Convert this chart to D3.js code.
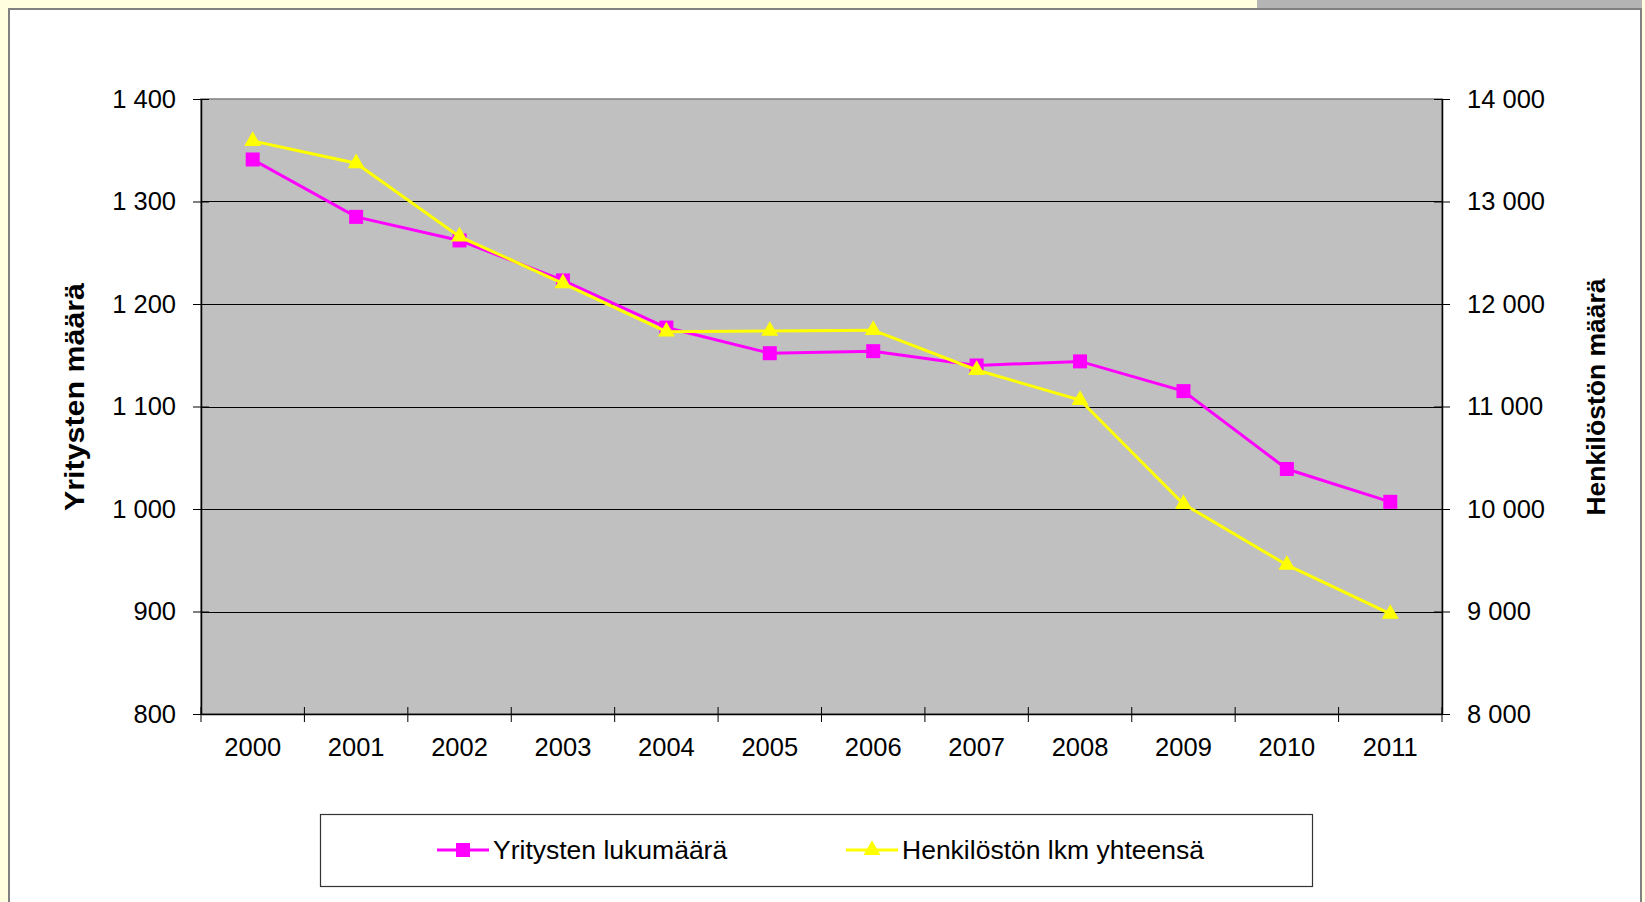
<!DOCTYPE html>
<html>
<head>
<meta charset="utf-8">
<script src="https://cdn.jsdelivr.net/npm/d3@7"></script>
<style>
  body { margin: 0; background: #FFFFE0; }
  svg { display: block; font-family: "Liberation Sans", Arial, sans-serif; }
</style>
</head>
<body>
<svg class="display"></svg>
<script>
const years = ['2000', '2001', '2002', '2003', '2004', '2005', '2006', '2007', '2008', '2009', '2010', '2011'];
const yritykset = [1341, 1285, 1262, 1223, 1177, 1152, 1154, 1140, 1144, 1115, 1039, 1007];
const henkilosto = [13590, 13373, 12657, 12202, 11730, 11737, 11745, 11356, 11063, 10049, 9454, 8976];
const leftTicks = [800, 900, 1000, 1100, 1200, 1300, 1400];
const rightTicks = [8000, 9000, 10000, 11000, 12000, 13000, 14000];

const width = 1645;
const height = 902;

const fmt = d3.formatLocale({ decimal: ',', thousands: ' ', grouping: [3], currency: ['', ''] }).format(',');

const svg = d3.select('.display')
  .attr('width', width)
  .attr('height', height);

// page background + grey tab on the top right
svg.append('rect').attr('width', width).attr('height', height).attr('fill', '#FFFFE0');
svg.append('rect').attr('x', 1257).attr('y', 0).attr('width', 385).attr('height', 10).attr('fill', '#B4B4B4');

// chart area
svg.append('rect')
  .attr('x', 9).attr('y', 9).attr('width', 1632).attr('height', 905)
  .attr('fill', '#fff').attr('stroke', '#808080').attr('stroke-width', 2);

const plot = { left: 201, right: 1442, top: 99, bottom: 714 };

const x = d3.scaleBand().domain(years).range([plot.left, plot.right]);
const yL = d3.scaleLinear().domain([800, 1400]).range([plot.bottom, plot.top]);
const yR = d3.scaleLinear().domain([8000, 14000]).range([plot.bottom, plot.top]);

svg.append('rect')
  .attr('x', plot.left).attr('y', plot.top)
  .attr('width', plot.right - plot.left).attr('height', plot.bottom - plot.top)
  .attr('fill', '#C0C0C0').attr('stroke', '#808080').attr('stroke-width', 1.5);

// gridlines
svg.append('g')
  .selectAll('line')
  .data(leftTicks.slice(1, -1))
  .join('line')
    .attr('x1', plot.left).attr('x2', plot.right)
    .attr('y1', d => Math.round(yL(d)) + 0.5).attr('y2', d => Math.round(yL(d)) + 0.5)
    .attr('stroke', '#000').attr('stroke-width', 1.2);

// axes
const axisL = svg.append('g')
  .attr('transform', `translate(${plot.left},0)`)
  .call(d3.axisLeft(yL).tickValues(leftTicks).tickFormat(fmt).tickSizeInner(8).tickSizeOuter(0).tickPadding(17));

const axisR = svg.append('g')
  .attr('transform', `translate(${plot.right},0)`)
  .call(d3.axisRight(yR).tickValues(rightTicks).tickFormat(fmt).tickSizeInner(8).tickSizeOuter(0).tickPadding(17));

const axisX = svg.append('g')
  .attr('transform', `translate(0,${plot.bottom})`)
  .call(d3.axisBottom(x).tickSize(0).tickPadding(24));

// boundary ticks between categories, crossing the axis
svg.append('g')
  .selectAll('line')
  .data(years.concat(['end']))
  .join('line')
    .attr('x1', (d, i) => plot.left + i * x.step())
    .attr('x2', (d, i) => plot.left + i * x.step())
    .attr('y1', plot.bottom - 7).attr('y2', plot.bottom + 8)
    .attr('stroke', '#000');

[axisL, axisR, axisX].forEach(a => {
  a.selectAll('.domain').attr('stroke', '#000').attr('stroke-width', 1.5);
  a.selectAll('.tick line').attr('stroke', '#000');
  a.selectAll('text').attr('font-size', 25.5).attr('fill', '#000').attr('font-family', '"Liberation Sans", Arial, sans-serif');
});
axisL.selectAll('.tick line').attr('x1', -8).attr('x2', 8);
axisR.selectAll('.tick line').attr('x1', -8).attr('x2', 8);

// axis titles
svg.append('text')
  .attr('transform', 'translate(84,397) rotate(-90)')
  .attr('text-anchor', 'middle')
  .attr('font-size', 27).attr('font-weight', 'bold')
  .attr('textLength', 228).attr('lengthAdjust', 'spacingAndGlyphs')
  .text('Yritysten määrä');

svg.append('text')
  .attr('transform', 'translate(1605,397) rotate(-90)')
  .attr('text-anchor', 'middle')
  .attr('font-size', 26.5).attr('font-weight', 'bold')
  .text('Henkilöstön määrä');

// series
const cx = d => x(d) + x.bandwidth() / 2;
const magenta = '#FF00FF';
const yellow = '#FFFF00';
const square = d3.symbol().type(d3.symbolSquare).size(196);
const triangle = d3.symbol().type(d3.symbolTriangle).size(125);

const lineL = d3.line().x((d, i) => cx(years[i])).y(d => yL(d));
const lineR = d3.line().x((d, i) => cx(years[i])).y(d => yR(d));

svg.append('path').datum(yritykset)
  .attr('d', lineL).attr('fill', 'none').attr('stroke', magenta).attr('stroke-width', 3);
svg.append('g').selectAll('path')
  .data(yritykset)
  .join('path')
    .attr('transform', (d, i) => `translate(${cx(years[i])},${yL(d)})`)
    .attr('d', square).attr('fill', magenta);

svg.append('path').datum(henkilosto)
  .attr('d', lineR).attr('fill', 'none').attr('stroke', yellow).attr('stroke-width', 3);
svg.append('g').selectAll('path')
  .data(henkilosto)
  .join('path')
    .attr('transform', (d, i) => `translate(${cx(years[i])},${yR(d)})`)
    .attr('d', triangle).attr('fill', yellow);

// legend
const legend = svg.append('g');
legend.append('rect')
  .attr('x', 320.5).attr('y', 814.5).attr('width', 992).attr('height', 72)
  .attr('fill', '#fff').attr('stroke', '#333').attr('stroke-width', 1.2);

const legendItems = [
  { name: 'Yritysten lukumäärä', color: magenta, sym: square, x: 437 },
  { name: 'Henkilöstön lkm yhteensä', color: yellow, sym: triangle, x: 846 }
];
const li = legend.selectAll('g.item')
  .data(legendItems)
  .join('g')
    .attr('class', 'item')
    .attr('transform', d => `translate(${d.x},850)`);
li.append('line').attr('x1', 0).attr('x2', 52).attr('stroke', d => d.color).attr('stroke-width', 3);
li.append('path').attr('transform', 'translate(26,0)').attr('d', d => d.sym()).attr('fill', d => d.color);
li.append('text')
  .attr('x', 56).attr('dy', '0.35em')
  .attr('font-size', 26.5)
  .text(d => d.name);
</script>
</body>
</html>
